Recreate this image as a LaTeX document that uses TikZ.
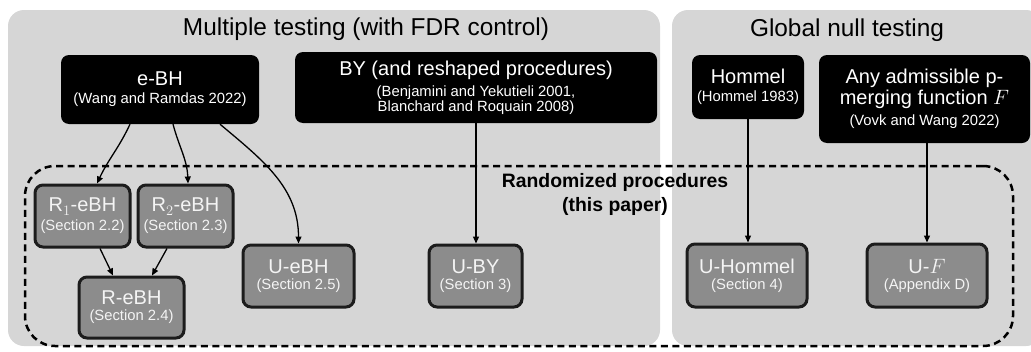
\documentclass[tikz,border=0pt]{standalone}
\usepackage{fontspec}
\setmainfont{Liberation Sans}
\usetikzlibrary{arrows.meta, positioning}
\definecolor{panelgray}{RGB}{214,214,214}
\definecolor{nodegray}{RGB}{140,140,140}
\definecolor{edgegray}{RGB}{28,28,28}
\definecolor{lighttext}{RGB}{244,244,244}
\newcommand{\namefont}{\fontsize{20}{26}\selectfont}
\newcommand{\reffont}{\fontsize{14.8}{16.5}\selectfont}
\tikzset{
	area/.style={fill=panelgray, rounded corners=16pt, inner sep=0pt},
	known/.style={fill=black, text=white, rounded corners=8pt, align=center, inner sep=0pt},
	randomized/.style={draw=edgegray, line width=3pt, fill=nodegray, text=lighttext, rounded corners=8pt, align=center, inner sep=0pt},
	region/.style={draw, dash pattern=on 7pt off 4.5pt, line width=2.5pt, rounded corners=30pt, inner sep=0pt},
	link/.style={-{Triangle[length=7pt,width=6pt]}, line width=1.3pt}
}
\begin{document}
\begin{tikzpicture}[x=1pt, y=1pt]
		\useasboundingbox (0,0) rectangle (1031,-351);
		
		\node[area, minimum width=652pt, minimum height=336pt] (multi) at (334,-178) {};
		\node[font=\fontsize{24.4}{28}\selectfont] (multititle) at (366,-29) {Multiple testing (with FDR control)};
		
		\node[area, minimum width=370pt, minimum height=336pt] (global) at (857,-178) {};
		\node[font=\fontsize{24.4}{28}\selectfont] (globaltitle) at (847,-30) {Global null testing};
		
		\node[region, minimum width=988pt, minimum height=180pt] (rand) at (519,-256) {};
		\node[align=center, font=\fontsize{19.4}{24}\selectfont\bfseries] (randtitle) at (615,-194) {Randomized procedures\\(this paper)};
		
		\node[known, minimum width=198pt, minimum height=69pt] (ebh) at (160,-89.5) {\namefont e-BH\\[6pt] \reffont (Wang and Ramdas 2022)};
		\node[known, minimum width=362pt, minimum height=71pt] (by) at (476,-87.5) {\namefont BY (and reshaped procedures)\\[5pt] \reffont (Benjamini and Yekutieli 2001,\\ \reffont Blanchard and Roquain 2008)};
		\node[known, minimum width=112pt, minimum height=64pt] (hommel) at (748,-87) {\namefont Hommel\\[6pt] \reffont (Hommel 1983)};
		\node[known, minimum width=211pt, minimum height=88pt] (anyf) at (924.5,-99) {\namefont Any admissible p-\\[1pt] \namefont merging function $F$\\[5pt] \reffont (Vovk and Wang 2022)};
		
		\node[randomized, minimum width=95pt, minimum height=62pt] (r1) at (82.5,-216) {\namefont R$_1$-eBH\\[4pt] \reffont (Section 2.2)};
		\node[randomized, minimum width=95pt, minimum height=62pt] (r2) at (185.5,-216) {\namefont R$_2$-eBH\\[4pt] \reffont (Section 2.3)};
		\node[randomized, minimum width=105pt, minimum height=61pt] (reb) at (131.5,-307.5) {\namefont R-eBH\\[4pt] \reffont (Section 2.4)};
		\node[randomized, minimum width=111pt, minimum height=62pt] (ueb) at (298.5,-276) {\namefont U-eBH\\[4pt] \reffont (Section 2.5)};
		\node[randomized, minimum width=93pt, minimum height=62pt] (uby) at (475.5,-276) {\namefont U-BY\\[4pt] \reffont (Section 3)};
		\node[randomized, minimum width=120pt, minimum height=63pt] (uhom) at (747,-275.5) {\namefont U-Hommel\\[4pt] \reffont (Section 4)};
		\node[randomized, minimum width=120pt, minimum height=63pt] (uf) at (927,-275.5) {\namefont U-$F$\\[4pt] \reffont (Appendix D)};
		
		\draw[link] ([xshift=-30pt]ebh.south) to[out=-115, in=65] ([xshift=14.5pt]r1.north);
		\draw[link] ([xshift=13pt]ebh.south) to[out=-75, in=92] ([xshift=2.5pt]r2.north);
		\draw[link] ([xshift=60pt]ebh.south) to[out=-40, in=90] (ueb.north);
		\draw[link] ([xshift=17.5pt]r1.south) -- ([xshift=-18.5pt]reb.north);
		\draw[link] ([xshift=-18.5pt]r2.south) -- ([xshift=20.5pt]reb.north);
		\draw[link] (by.south) -- (by.south |- uby.north);
		\draw[link] (hommel.south) -- (hommel.south |- uhom.north);
		\draw[link] (anyf.south -| uf.north) -- (uf.north);
\end{tikzpicture}
\end{document}
